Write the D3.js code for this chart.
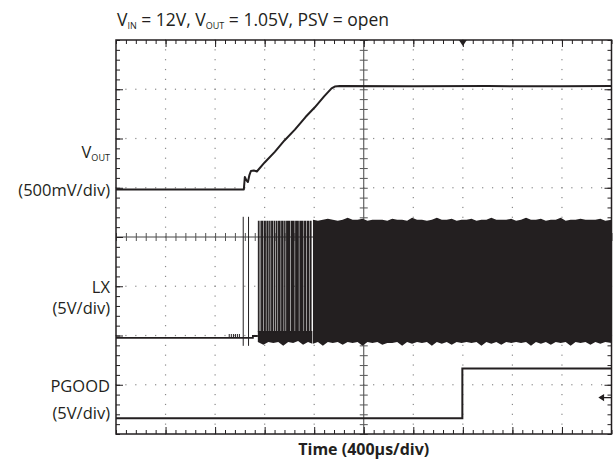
<!DOCTYPE html>
<html><head><meta charset="utf-8">
<script src="https://cdn.jsdelivr.net/npm/d3@7"></script>
<style>
body{margin:0;background:#fff}
svg{display:block}
text{font-family:"Open Sans",sans-serif;fill:#231f20}
</style>
</head><body>
<svg id="c" width="613" height="464"></svg>
<script>
// ---------------- DATA ----------------
// time in µs (400 µs/div, 10 divisions)
const timeDomain = [0, 4000];
const channelNames = ["VOUT", "LX", "PGOOD"];
const channelScales = ["(500mV/div)", "(5V/div)", "(5V/div)"];
const xLabel = "Time (400µs/div)";

// VOUT soft-start (t µs, V)
const voutT = [0, 1032, 1040, 1052, 1065, 1077, 1089, 1113, 1137, 1200, 1282, 1360, 1444, 1530, 1605, 1680, 1740, 1766, 1806, 2400, 3000, 3600, 4000];
const voutV = [0, 0, 0.127, 0.096, 0.076, 0.147, 0.188, 0.193, 0.183, 0.275, 0.382, 0.498, 0.608, 0.736, 0.835, 0.946, 1.027, 1.045, 1.05, 1.048, 1.05, 1.048, 1.05];

// LX before switching (t µs, V)
const lxBaseT = [0, 1105, 1105, 1145];
const lxBaseV = [0, 0, 0.2, 0.2];
const lxBumpT = [914, 931, 948, 964, 980, 996];   // small pre-bias blips
const lxBumpV = [0.3, 0.3, 0.3, 0.3, 0.3, 0.3];
const lxSpikeT = [1027, 1070];                     // first isolated pulses
const lxSpikeHi = [12.3, 12.3];
const lxSpikeLo = [-0.8, -0.8];

// LX individual switching pulses during start-up [start µs, end µs]
const lxPulseStart = [1145, 1158, 1171, 1193, 1214, 1236, 1252, 1274, 1290, 1308, 1333, 1357, 1373, 1411, 1446, 1480, 1518, 1540, 1566];
const lxPulseEnd   = [1154, 1167, 1189, 1210, 1232, 1248, 1270, 1286, 1304, 1329, 1353, 1369, 1407, 1442, 1476, 1514, 1536, 1562, 1579];
const lxPulseTop = 11.9;
const lxLowBandTop = 0.7;
const lxContinuousFrom = 1583;

// LX switching envelope (t µs, top V, bottom V)
const lxEnvT = [1145,1190,1230,1270,1310,1350,1390,1430,1470,1510,1550,1590,1630,1670,1710,1750,1790,1830,1870,1910,1950,1990,2030,2070,2110,2150,2190,2230,2270,2310,2350,2390,2430,2470,2510,2550,2590,2630,2670,2710,2750,2790,2830,2870,2910,2950,2990,3030,3070,3110,3150,3190,3230,3270,3310,3350,3390,3430,3470,3510,3550,3590,3630,3670,3710,3750,3790,3830,3870,3910,3950,4000];
const lxEnvTop = [11.9,12.0,11.9,12.0,12.0,12.1,11.9,12.0,12.0,12.2,12.0,12.0,11.9,12.0,12.1,12.0,11.9,12.0,12.2,12.0,12.0,12.1,11.9,12.0,12.0,12.0,11.9,12.1,12.0,12.0,11.9,12.2,12.0,12.0,11.9,12.0,12.2,12.0,12.0,12.1,11.9,12.0,12.0,12.1,11.9,12.0,12.0,12.2,12.0,12.0,12.0,12.1,11.9,12.0,12.2,12.0,12.0,12.1,11.9,12.0,12.0,12.2,11.9,12.0,12.0,12.1,12.0,12.0,12.0,12.1,11.9,12.0];
const lxEnvBot = [-0.4,-0.7,-0.4,-0.5,-0.4,-0.8,-0.4,-0.5,-0.3,-0.7,-0.4,-0.6,-0.4,-0.8,-0.4,-0.5,-0.4,-0.7,-0.4,-0.5,-0.4,-0.8,-0.4,-0.5,-0.4,-0.7,-0.5,-0.5,-0.4,-0.8,-0.4,-0.6,-0.4,-0.5,-0.4,-0.8,-0.4,-0.6,-0.4,-0.7,-0.4,-0.5,-0.4,-0.5,-0.4,-0.8,-0.4,-0.6,-0.4,-0.7,-0.4,-0.5,-0.4,-0.5,-0.4,-0.8,-0.4,-0.6,-0.4,-0.7,-0.4,-0.5,-0.4,-0.8,-0.4,-0.5,-0.4,-0.7,-0.4,-0.6,-0.4,-0.5];

// PGOOD (t µs, V)
const pgT = [0, 1200, 1600, 2000, 2400, 2796, 2796, 3200, 3600, 4000];
const pgV = [0, 0.0, 0.01, 0.0, 0.01, 0, 5.05, 5.04, 5.05, 5.04];

const triggerTime = 2800;
const triggerLevelPG = 2.1;

// ---------------- LAYOUT ----------------
const svg = d3.select("#c");
const L = 116, R = 611.5, T = 40, B = 434;
const ink = "#231f20";
const x = d3.scaleLinear().domain(timeDomain).range([L, R]);
const dv = d3.scaleLinear().domain([-4, 4]).range([B, T]);   // screen divisions
const chan = {
  VOUT: {perDiv: 0.5, off: 0.964},
  LX: {perDiv: 5, off: -2.05},
  PGOOD: {perDiv: 5, off: -3.68}
};
const yc = name => v => dv(chan[name].off + v / chan[name].perDiv);
const yV = yc("VOUT"), yL = yc("LX"), yP = yc("PGOOD");

// grid dots
const g = svg.append("g");
const majorT = d3.range(400, 4000, 400);
const majorD = d3.range(-3, 4, 1);
const minorT = d3.range(0, 4000.1, 80);
const minorD = d3.range(-4, 4.01, 0.2);
majorT.filter(t => t !== 2000).forEach(t => {
  g.selectAll(null).data(minorD).enter().append("rect")
    .attr("x", x(t) - 0.6).attr("y", d => dv(d) - 0.6).attr("width", 1.2).attr("height", 1.2).attr("fill", "#8a8a8a");
});
majorD.filter(d => d !== 0).forEach(d => {
  g.selectAll(null).data(minorT).enter().append("rect")
    .attr("x", t => x(t) - 0.6).attr("y", dv(d) - 0.6).attr("width", 1.2).attr("height", 1.2).attr("fill", "#8a8a8a");
});

// center lines with crossing ticks (d3 axes)
function noDomain(sel){ sel.select(".domain").remove(); sel.selectAll(".tick line").attr("stroke", "#555"); }
svg.append("line").attr("x1", L).attr("x2", R).attr("y1", dv(0)).attr("y2", dv(0)).attr("stroke", "#444").attr("stroke-width", 1);
svg.append("line").attr("x1", x(2000)).attr("x2", x(2000)).attr("y1", T).attr("y2", B).attr("stroke", "#444").attr("stroke-width", 1);
[d3.axisTop, d3.axisBottom].forEach(ax => {
  svg.append("g").attr("transform", `translate(0,${dv(0)})`)
    .call(ax(x).tickValues(minorT).tickSize(4).tickFormat("")).call(noDomain);
});
[d3.axisLeft, d3.axisRight].forEach(ax => {
  svg.append("g").attr("transform", `translate(${x(2000)},0)`)
    .call(ax(dv).tickValues(minorD).tickSize(4).tickFormat("")).call(noDomain);
});

// border ticks
function borderTicks(axisFn, scale, vals, size, tr) {
  svg.append("g").attr("transform", tr)
    .call(axisFn(scale).tickValues(vals).tickSize(size).tickFormat("")).call(s => {
      s.select(".domain").remove();
      s.selectAll(".tick line").attr("stroke", ink).attr("stroke-width", 1);
    });
}
borderTicks(d3.axisBottom, x, minorT, 4, `translate(0,${T})`);
borderTicks(d3.axisBottom, x, majorT, 7, `translate(0,${T})`);
borderTicks(d3.axisTop, x, minorT, 4, `translate(0,${B})`);
borderTicks(d3.axisTop, x, majorT, 7, `translate(0,${B})`);
borderTicks(d3.axisRight, dv, minorD, 4, `translate(${L},0)`);
borderTicks(d3.axisRight, dv, majorD, 7, `translate(${L},0)`);
borderTicks(d3.axisLeft, dv, minorD, 4, `translate(${R},0)`);
borderTicks(d3.axisLeft, dv, majorD, 7, `translate(${R},0)`);

// ---------------- TRACES ----------------
const tr = svg.append("g");
// LX switching burst
const env = lxEnvT.map((t, i) => ({t, top: lxEnvTop[i], bot: lxEnvBot[i]}));
tr.append("path")
  .datum(env.filter(d => d.t >= lxContinuousFrom - 10))
  .attr("d", d3.area().x(d => x(Math.max(d.t, lxContinuousFrom))).y0(d => yL(d.bot)).y1(d => yL(d.top)))
  .attr("fill", ink);
tr.append("path")
  .datum(env.filter(d => d.t <= lxContinuousFrom + 10))
  .attr("d", d3.area().x(d => x(Math.min(d.t, lxContinuousFrom + 2))).y0(d => yL(d.bot)).y1(yL(lxLowBandTop)))
  .attr("fill", ink);
tr.selectAll(null).data(lxPulseStart.map((s, i) => [s, lxPulseEnd[i]])).enter().append("rect")
  .attr("x", d => x(d[0])).attr("width", d => x(d[1]) - x(d[0]))
  .attr("y", yL(lxPulseTop)).attr("height", yL(lxLowBandTop) - yL(lxPulseTop) + 1)
  .attr("fill", ink);
// LX baseline and early pulses
tr.append("path").datum(lxBaseT.map((t, i) => [t, lxBaseV[i]]))
  .attr("d", d3.line().x(d => x(d[0])).y(d => yL(d[1])))
  .attr("fill", "none").attr("stroke", ink).attr("stroke-width", 1.8);
tr.selectAll(null).data(lxBumpT.map((t, i) => [t, lxBumpV[i]])).enter().append("line")
  .attr("x1", d => x(d[0])).attr("x2", d => x(d[0]))
  .attr("y1", yL(0)).attr("y2", d => yL(d[1]) - 1)
  .attr("stroke", ink).attr("stroke-width", 1);
tr.selectAll(null).data(lxSpikeT.map((t, i) => [t, lxSpikeHi[i], lxSpikeLo[i]])).enter().append("line")
  .attr("x1", d => x(d[0])).attr("x2", d => x(d[0]))
  .attr("y1", d => yL(d[1])).attr("y2", d => yL(d[2]))
  .attr("stroke", ink).attr("stroke-width", 1);

// VOUT
tr.append("path").datum(voutT.map((t, i) => [t, voutV[i]]))
  .attr("d", d3.line().x(d => x(d[0])).y(d => yV(d[1])))
  .attr("fill", "none").attr("stroke", ink).attr("stroke-width", 2).attr("stroke-linejoin", "round");

// PGOOD
tr.append("path").datum(pgT.map((t, i) => [t, pgV[i]]))
  .attr("d", d3.line().x(d => x(d[0])).y(d => yP(d[1])))
  .attr("fill", "none").attr("stroke", ink).attr("stroke-width", 2);

// border
svg.append("rect").attr("x", L).attr("y", T).attr("width", R - L).attr("height", B - T)
  .attr("fill", "none").attr("stroke", ink).attr("stroke-width", 1.5);

// trigger marker (top) and trigger level arrow (right)
const tx = x(triggerTime);
svg.append("path").attr("d", `M${tx - 4},${T} L${tx + 4},${T} L${tx},${T + 6} Z`).attr("fill", ink);
const ty = yP(triggerLevelPG);
svg.append("path").attr("d", `M${R - 12},${ty} L${R},${ty} M${R - 12},${ty} L${R - 8},${ty - 2.5} L${R - 8},${ty + 2.5} Z`)
  .attr("stroke", ink).attr("stroke-width", 1.2).attr("fill", ink);

// ---------------- TEXT ----------------
const fs = 16.5;
const title = svg.append("text").attr("x", 117).attr("y", 26).attr("font-size", 17.5);
title.append("tspan").text("V");
title.append("tspan").text("IN").attr("font-size", 9).attr("dy", 3);
title.append("tspan").attr("dy", -3).text(" = 12V, V");
title.append("tspan").text("OUT").attr("font-size", 9).attr("dy", 3);
title.append("tspan").attr("dy", -3).text(" = 1.05V, PSV = open");

const lx0 = 110;
const vl = svg.append("text").attr("x", lx0).attr("y", 158).attr("text-anchor", "end").attr("font-size", fs);
vl.append("tspan").text("V");
vl.append("tspan").text("OUT").attr("font-size", fs * 0.55).attr("dy", 3);
svg.append("text").attr("x", lx0).attr("y", 196).attr("text-anchor", "end").attr("font-size", fs).text(channelScales[0]);
svg.append("text").attr("x", lx0).attr("y", 293).attr("text-anchor", "end").attr("font-size", fs).text(channelNames[1]);
svg.append("text").attr("x", lx0).attr("y", 314).attr("text-anchor", "end").attr("font-size", fs).text(channelScales[1]);
svg.append("text").attr("x", lx0).attr("y", 392).attr("text-anchor", "end").attr("font-size", fs).text(channelNames[2]);
svg.append("text").attr("x", lx0).attr("y", 419).attr("text-anchor", "end").attr("font-size", fs).text(channelScales[2]);

svg.append("text").attr("x", x(2000)).attr("y", 455).attr("text-anchor", "middle")
  .attr("font-size", 16).attr("font-weight", "bold").text(xLabel);
</script>
</body></html>
